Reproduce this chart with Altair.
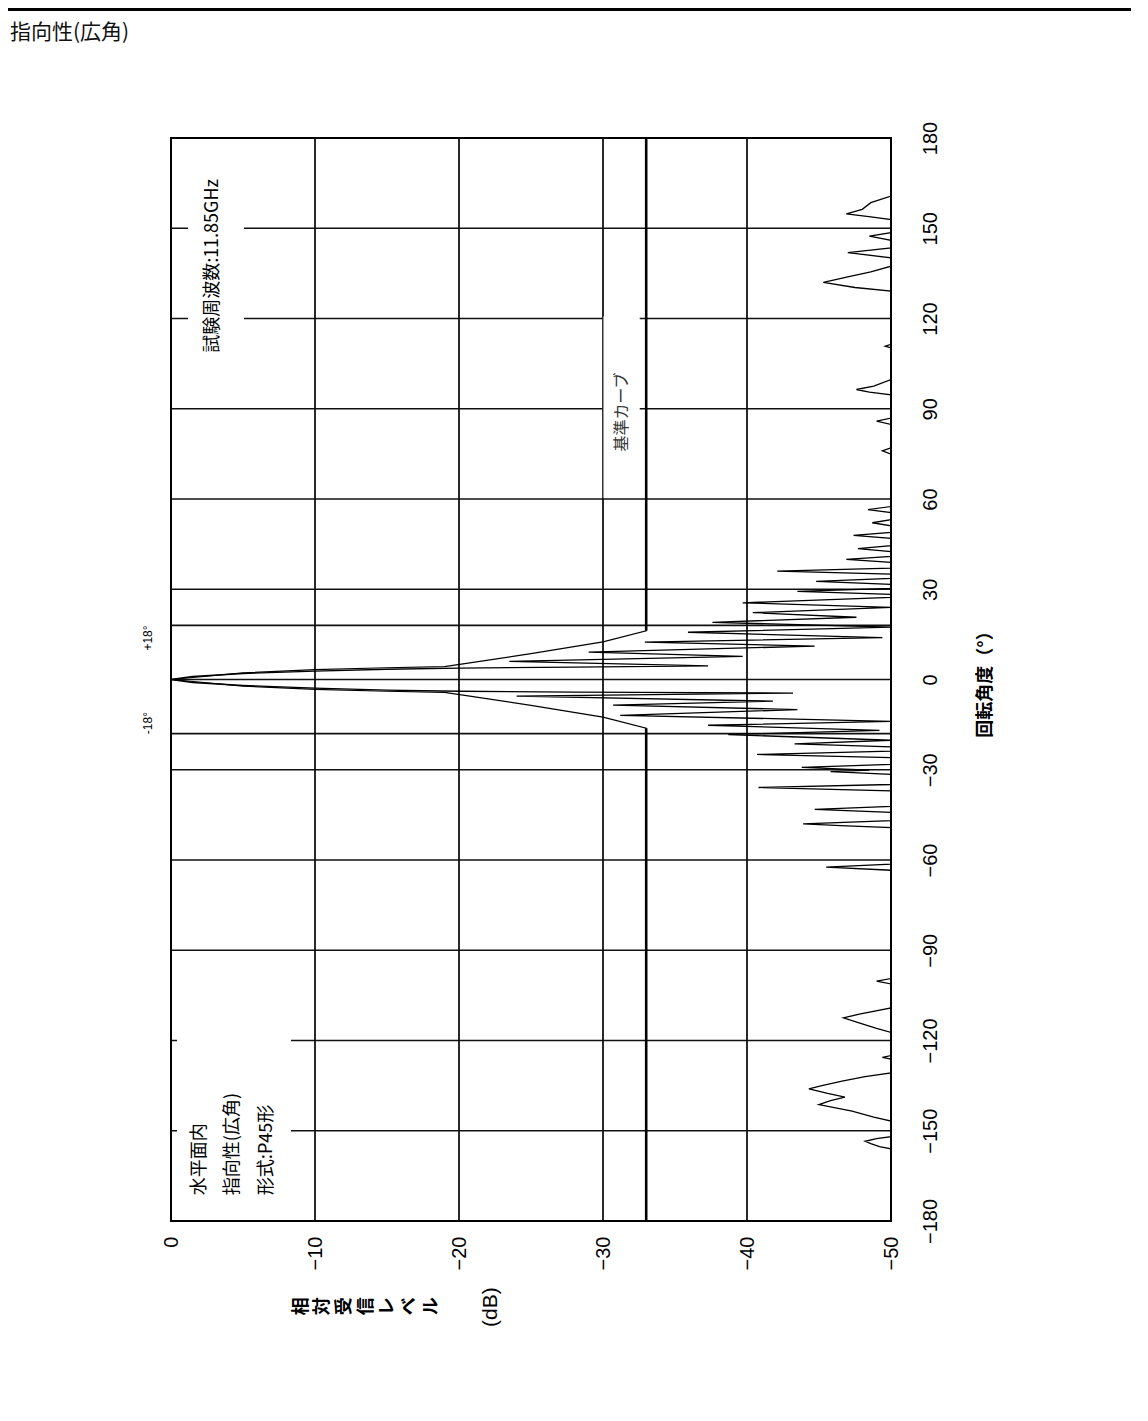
import altair as alt
import pandas as pd

W, H = 720, 1083

# ---------------- data ----------------
level_ticks = [0, -10, -20, -30, -40, -50]
angle_ticks = [180, 150, 120, 90, 60, 30, 0, -30, -60, -90, -120, -150, -180]
grid_levels = [-10, -20, -30, -40]
grid_angles = [150, 120, 90, 60, 30, 18, 0, -18, -30, -60, -90, -120, -150]

trace_angle = [
    -180, -156.0, -155.3, -154.3, -153.5, -152.6, -152.0,
    -146.8, -145.5, -143.5, -141.3, -140.0, -138.8, -137.6, -136.1, -135.0, -133.5, -132.0, -130.8,
    -126.2, -125.6, -125.0,
    -117.3, -116.0, -114.5, -112.5, -111.2, -109.2,
    -101.2, -100.3, -99.4,
    -63.4, -62.4, -61.4,
    -49.2, -48.6, -48.0, -46.9,
    -44.2, -43.2, -42.2,
    -37.0, -35.9, -34.9,
    -31.5, -30.6, -30.1, -29.2, -28.2,
    -26.0, -24.9, -23.8,
    -22.4, -21.4, -20.2,
    -18.3, -16.9, -15.2, -13.9, -11.9, -10.0, -8.5, -7.2, -5.5, -4.5,
    -4.2, -3.9, -3.5, -2.9, -2.0, -1.0, 0.0, 1.0, 2.0, 2.8, 3.4, 3.8, 4.1, 4.5,
    6.0, 7.7, 9.1, 11.1, 12.4, 13.9, 15.7, 17.4, 19.0, 20.7, 22.2, 24.0, 25.5, 27.3,
    28.3, 29.3, 30.3, 31.6, 32.6, 33.6, 35.0, 36.0, 37.0, 38.9, 39.9, 40.9,
    42.5, 43.5, 44.5, 46.9, 47.9, 48.9, 51.1, 52.1, 53.1, 55.5, 56.5, 57.5,
    74.9, 76.0, 77.0,
    84.8, 85.9, 86.9,
    94.6, 95.5, 96.4, 97.5, 99.7,
    110.2, 110.8, 111.4,
    129.1, 130.3, 132.0, 133.8, 135.5, 137.4,
    140.2, 141.9, 143.5,
    146.0, 147.4, 148.5,
    152.9, 153.8, 154.8, 156.3, 158.5, 160.7,
    180,
]
trace_level = [
    -50, -50, -49.2, -48.6, -48.2, -49.0, -50,
    -50, -48.8, -47.3, -45.0, -45.8, -46.8, -45.6, -44.3, -45.2, -46.6, -48.2, -50,
    -50, -49.4, -50,
    -50, -49.0, -48.0, -46.7, -47.8, -50,
    -50, -49.0, -50,
    -50, -45.5, -50,
    -50, -46.5, -43.9, -50,
    -50, -44.7, -50,
    -50, -40.8, -50,
    -50, -45.8, -48.5, -43.8, -50,
    -50, -40.7, -50,
    -50, -43.3, -50,
    -38.7, -49.2, -37.3, -50, -31.2, -43.5, -30.7, -41.8, -24.0, -43.2,
    -28, -20, -15, -10, -5, -1.5, 0, -1.5, -5, -10, -15, -20, -28, -37.3,
    -23.5, -39.7, -29.0, -44.7, -32.9, -49.4, -35.9, -50, -37.6, -47.6, -40.4, -50, -39.7, -50,
    -50, -43.5, -50, -50, -44.8, -50, -50, -42.1, -50, -50, -46.9, -50,
    -50, -47.7, -50, -50, -47.4, -50, -50, -48.7, -50, -50, -48.4, -50,
    -50, -49.4, -50,
    -50, -49.0, -50,
    -50, -48.5, -47.6, -48.8, -50,
    -50, -49.6, -50,
    -50, -47.5, -45.3, -47.0, -48.6, -50,
    -50, -47.0, -50,
    -50, -48.5, -50,
    -50, -48.6, -46.9, -48.0, -48.6, -50,
    -50,
]

ref_angle = [-180, -16.2, -12.5, -8.6, -4.3, -3.9, -3.3, -2.2, 0,
             2.2, 3.3, 3.9, 4.3, 8.6, 12.5, 16.2, 180]
ref_level = [-33, -33, -30, -25, -19, -15, -10, -5, 0,
             -5, -10, -15, -19, -25, -30, -33, -33]

ref_bold_a1 = [16.2, -180]
ref_bold_a2 = [180, -16.2]
ref_bold_lv = [-33, -33]

# white gaps behind in-plot labels
mask_l1 = [-1.18, -0.42, -30.03]
mask_l2 = [-5.07, -8.33, -32.55]
mask_a1 = [106.0, -175.0, 60.3]
mask_a2 = [169.0, -116.0, 120.7]

freq_text = ["試験周波数:11.85GHz"]
freq_lv = [-2.917]
freq_ang = [137.5]

info_text = ["水平面内", "指向性(広角)", "形式:P45形"]
info_lv = [-2.014, -4.306, -6.667]
info_ang = [-171.4, -171.4, -171.4]

refname_text = ["基準カーブ"]
refname_lv = [-31.32]
refname_ang = [88.9]

deg_text = ["+18°", "-18°"]
deg_lv = [1.6, 1.6]
deg_ang = [13.8, -14.5]

xtitle_chars = ["相", "対", "受", "信", "レ", "ベ", "ル"]
xtitle_lv = [-9.076 - 1.507 * i for i in range(len(xtitle_chars))]
xtitle_ang = [-208.3] * len(xtitle_chars)

unit_text = ["(dB)"]
unit_lv = [-22.22]
unit_ang = [-208.6]

# ---------------- scales / axes ----------------
TICK_FONT = "Liberation Sans Narrow, Liberation Sans, Arial"
xs = alt.Scale(domain=[-50, 0], reverse=True, nice=False, zero=False)
ys = alt.Scale(domain=[-180, 180], nice=False, zero=False)

x_axis = alt.Axis(values=level_ticks, orient="bottom", labelAngle=270, labelAlign="right",
                  labelBaseline="middle", labelPadding=15, ticks=False, domain=False, grid=False,
                  labelFont=TICK_FONT, labelFontSize=20, labelColor="black",
                  labelFlush=False, labelOverlap=False, title=None)
y_axis = alt.Axis(values=angle_ticks, orient="right", labelAngle=270, labelAlign="center",
                  labelBaseline="middle", labelPadding=39, ticks=False, domain=False, grid=False,
                  labelFont=TICK_FONT, labelFontSize=20, labelColor="black",
                  labelFlush=False, labelOverlap=False,
                  title="回転角度（°）", titleAngle=270, titleX=94, titleY=H / 2,
                  titleAlign="center", titleBaseline="middle", titleFont="Noto Sans CJK JP",
                  titleFontSize=18, titleFontWeight="bold", titleColor="black")


def X(f):
    return alt.X(f, type="quantitative", scale=xs, axis=x_axis)


def Y(f):
    return alt.Y(f, type="quantitative", scale=ys, axis=y_axis)


# ---------------- layers ----------------
vgrid = alt.Chart(pd.DataFrame({"lv": grid_levels})).mark_rule(
    color="#111", strokeWidth=1.8).encode(x=X("lv"), y=alt.value(0), y2=alt.value(H))

hgrid = alt.Chart(pd.DataFrame({"ang": grid_angles})).mark_rule(
    color="#111", strokeWidth=1.6).encode(y=Y("ang"), x=alt.value(0), x2=alt.value(W))

masks = alt.Chart(pd.DataFrame({"l1": mask_l1, "l2": mask_l2, "a1": mask_a1, "a2": mask_a2})).mark_rect(
    color="white").encode(x=X("l1"), x2=alt.X2("l2"), y=Y("a1"), y2=alt.Y2("a2"))

boxedge = alt.Chart(pd.DataFrame({"lv": [mask_l1[2]], "a1": [mask_a1[2]], "a2": [mask_a2[2]]})).mark_rule(
    color="#9a9a9a", strokeWidth=1).encode(x=X("lv"), y=Y("a1"), y2=alt.Y2("a2"))

ref_df = pd.DataFrame({"lv": ref_level, "ang": ref_angle, "i": list(range(len(ref_angle)))})
ref = alt.Chart(ref_df).mark_line(color="black", strokeWidth=1.2).encode(
    x=X("lv"), y=Y("ang"), order=alt.Order("i:Q"))

refbold = alt.Chart(pd.DataFrame({"lv": ref_bold_lv, "a1": ref_bold_a1, "a2": ref_bold_a2})).mark_rule(
    color="black", strokeWidth=2.6).encode(x=X("lv"), y=Y("a1"), y2=alt.Y2("a2"))

trace_df = pd.DataFrame({"lv": trace_level, "ang": trace_angle})
trace = alt.Chart(trace_df).mark_line(color="black", strokeWidth=1.3).encode(
    x=X("lv"), y=Y("ang"), order=alt.Order("ang:Q"))


def text_layer(texts, lvs, angs, align, size, font="Noto Sans CJK JP", weight="normal", color="black"):
    df = pd.DataFrame({"t": texts, "lv": lvs, "ang": angs})
    return alt.Chart(df).mark_text(angle=270, align=align, baseline="middle", font=font,
                                   fontSize=size, fontWeight=weight, color=color).encode(
        x=X("lv"), y=Y("ang"), text="t:N")


t_freq = text_layer(freq_text, freq_lv, freq_ang, "center", 18)
t_info = text_layer(info_text, info_lv, info_ang, "left", 18)
t_ref = text_layer(refname_text, refname_lv, refname_ang, "center", 16, color="#333")
t_deg = text_layer(deg_text, deg_lv, deg_ang, "center", 12, font=TICK_FONT)
t_xtitle = text_layer(xtitle_chars, xtitle_lv, xtitle_ang, "center", 18, weight="bold")
t_unit = text_layer(unit_text, unit_lv, unit_ang, "center", 21, font=TICK_FONT)

topline = alt.Chart(pd.DataFrame({"k": [0]})).mark_rule(color="black", strokeWidth=3).encode(
    x=alt.value(-163), x2=alt.value(969), y=alt.value(-128.5))

page_title = alt.Chart(pd.DataFrame({"t": ["指向性(広角)"]})).mark_text(
    align="left", baseline="middle", font="Noto Sans CJK JP", fontSize=21, color="#111").encode(
    x=alt.value(-161), y=alt.value(-105), text="t:N")

chart = alt.layer(
    vgrid, hgrid, masks, boxedge, ref, refbold, trace,
    t_freq, t_info, t_ref, t_deg, t_xtitle, t_unit, topline, page_title
).properties(
    width=W, height=H,
    autosize=alt.AutoSizeParams(type="none"),
    padding={"left": 163, "top": 130, "right": 240, "bottom": 170},
).configure_view(stroke="black", strokeWidth=2)

chart.save("out.html", embed_options={"renderer": "svg", "actions": False})
